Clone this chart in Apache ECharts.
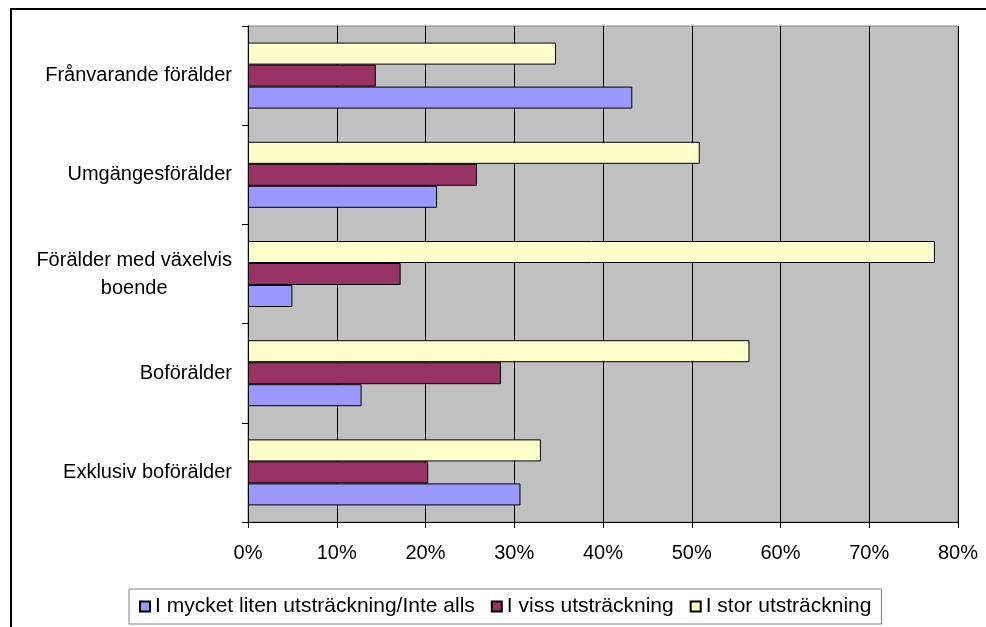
<!DOCTYPE html>
<html>
<head>
<meta charset="utf-8">
<script src="https://cdn.jsdelivr.net/npm/echarts@6/dist/echarts.min.js"></script>
<style>
html,body{margin:0;padding:0;background:#fff;}
#chart{width:986px;height:627px;}
</style>
</head>
<body>
<div id="chart"></div>
<script>
// Categories, bottom to top as drawn on the category axis
const categories = ["Exklusiv boförälder", "Boförälder", "Förälder med växelvis\nboende", "Umgängesförälder", "Frånvarande förälder"];
const seriesNames = ["I mycket liten utsträckning/Inte alls", "I viss utsträckning", "I stor utsträckning"];
// Values in percent
const valLiten = [30.7, 12.8, 5.0, 21.3, 43.3];
const valViss = [20.3, 28.5, 17.2, 25.8, 14.4];
const valStor = [33.0, 56.5, 77.4, 50.9, 34.7];
const tickValues = [0, 10, 20, 30, 40, 50, 60, 70, 80];

const FONT = "'Liberation Sans', Arial, sans-serif";
const FS = 20;
const colors = ['#9999FF', '#993366', '#FFFFCC'];

const chart = echarts.init(document.getElementById('chart'), null, {renderer: 'canvas'});

function mkSeries(name, data, color) {
  return {
    name: name,
    type: 'bar',
    data: data,
    barWidth: 22,
    barGap: '0%',
    itemStyle: {color: color, borderColor: '#000', borderWidth: 1},
    emphasis: {disabled: true},
    animation: false
  };
}

chart.setOption({
  animation: false,
  backgroundColor: '#fff',
  graphic: [{
    type: 'rect',
    shape: {x: 11, y: 9, width: 1000, height: 700},
    style: {fill: 'none', stroke: '#000', lineWidth: 2},
    silent: true,
    z: -1
  }],
  grid: {
    left: 248, right: 28, top: 26, bottom: 105,
    show: true,
    backgroundColor: '#C0C0C0',
    borderColor: '#808080',
    borderWidth: 1
  },
  legend: {
    left: 129, top: 589,
    data: seriesNames,
    itemWidth: 10, itemHeight: 10,
    itemGap: 16,
    padding: [7, 10, 7, 10],
    borderColor: '#808080', borderWidth: 1,
    backgroundColor: '#fff',
    icon: 'rect',
    selectedMode: false,
    textStyle: {fontFamily: FONT, fontSize: 21, color: '#000'}
  },
  xAxis: {
    type: 'value',
    min: tickValues[0], max: tickValues[tickValues.length - 1], interval: 10,
    axisLine: {show: true, lineStyle: {color: '#000', width: 1}},
    axisTick: {show: true, length: 6, lineStyle: {color: '#000'}},
    splitLine: {show: true, lineStyle: {color: '#000', width: 1}},
    axisLabel: {formatter: '{value}%', margin: 21, fontFamily: FONT, fontSize: FS, color: '#000'}
  },
  yAxis: {
    type: 'category',
    data: categories,
    axisLine: {show: true, lineStyle: {color: '#000', width: 1}},
    axisTick: {show: true, length: 6, lineStyle: {color: '#000'}},
    axisLabel: {
      margin: 16,
      fontFamily: FONT, fontSize: FS, color: '#000',
      formatter: function (v) {
        return v.split('\n').map(s => '{c|' + s + '}').join('\n');
      },
      rich: {c: {fontFamily: FONT, fontSize: FS, color: '#000', align: 'center', lineHeight: 28}}
    }
  },
  // series drawn top-to-bottom within each group: stor, viss, liten
  series: [
    mkSeries(seriesNames[2], valStor, colors[2]),
    mkSeries(seriesNames[1], valViss, colors[1]),
    mkSeries(seriesNames[0], valLiten, colors[0])
  ]
});
</script>
</body>
</html>
